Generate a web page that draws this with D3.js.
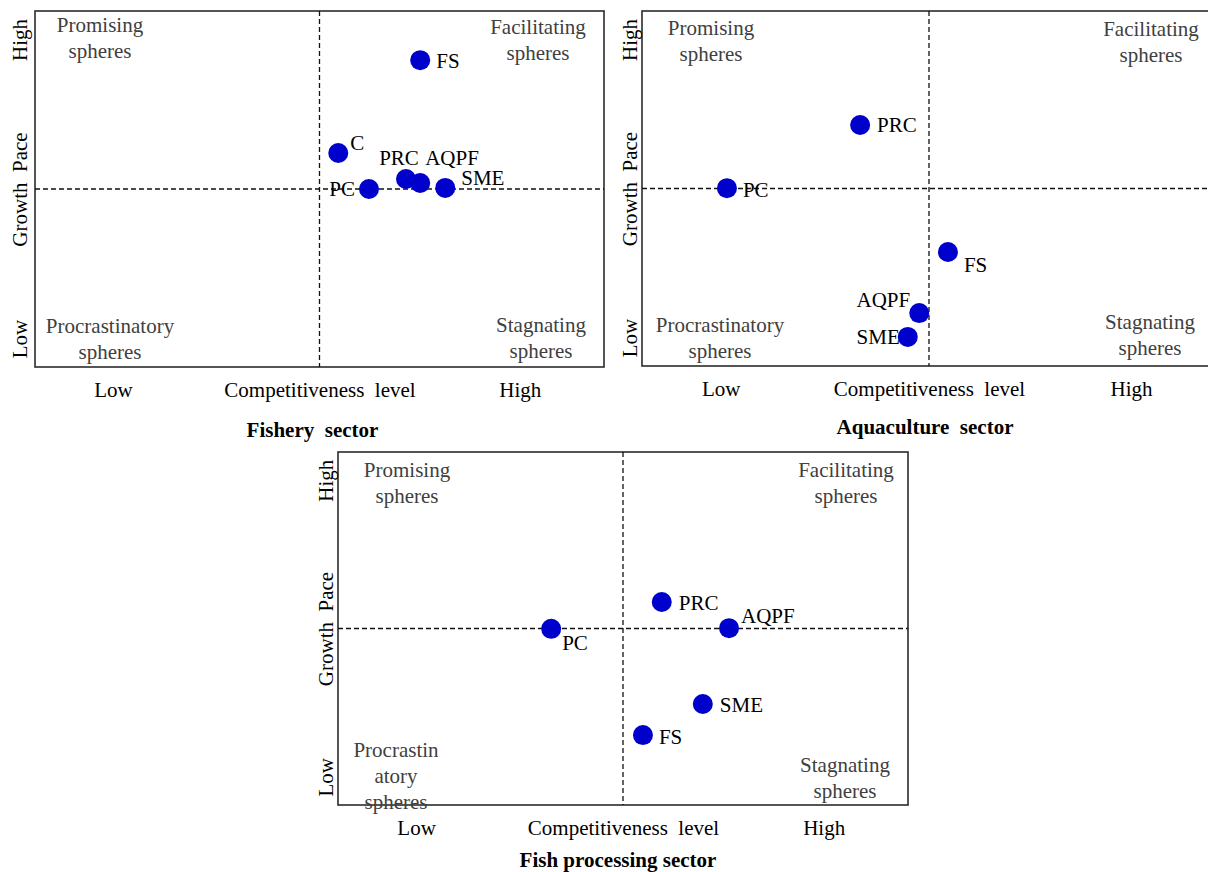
<!DOCTYPE html>
<html>
<head>
<meta charset="utf-8">
<script src="https://cdn.jsdelivr.net/npm/d3@7/dist/d3.min.js"></script>
<style>
  html, body { margin: 0; padding: 0; background: #fff; }
  svg text { font-family: "Liberation Serif", "Times New Roman", serif; white-space: pre; }
</style>
</head>
<body>
<svg id="chart" width="1208" height="872"></svg>
<script>
// ---------------- DATA ----------------
// Fishery sector
const fisheryLabels = ["FS", "C", "PC", "PRC", "AQPF", "SME"];
const fisheryX      = [6.77, 5.33, 5.87, 6.52, 6.77, 7.21];   // competitiveness level (0-10)
const fisheryY      = [8.62, 6.01, 5.00, 5.28, 5.17, 5.03];   // growth pace (0-10)

// Aquaculture sector
const aquaLabels = ["PRC", "PC", "FS", "AQPF", "SME"];
const aquaX      = [3.80, 1.48, 5.33, 4.83, 4.63];
const aquaY      = [6.79, 5.01, 3.21, 1.49, 0.82];

// Fish processing sector
const procLabels = ["PRC", "AQPF", "PC", "SME", "FS"];
const procX      = [5.68, 6.86, 3.74, 6.40, 5.35];
const procY      = [5.75, 5.01, 4.99, 2.86, 1.98];

// Panel titles
const panelTitles = ["Fishery  sector", "Aquaculture  sector", "Fish processing sector"];

// Quadrant labels
const promisingText   = ["Promising", "spheres"];
const facilitatingText = ["Facilitating", "spheres"];
const procrastText    = ["Procrastinatory", "spheres"];
const procrastTextNarrow = ["Procrastin", "atory", "spheres"];
const stagnatingText  = ["Stagnating", "spheres"];

// Axis tick labels
const xTickValues = [1.37, 5, 8.52];
const xTickLabels = ["Low", "Competitiveness  level", "High"];
const yTickValues = [0.8, 5, 9.2];
const yTickLabels = ["Low", "Growth  Pace", "High"];

// Midpoint (quadrant divider)
const midValue = 5;

// ---------------- LAYOUT / STYLE ----------------
// label offsets [dx, dy, anchor] relative to each point
const fisheryLabelPos = [[16,1,"start"],[12,-10,"start"],[-14,0,"end"],[-7,-21,"middle"],[5,-25,"start"],[16,-10,"start"]];
const aquaLabelPos    = [[17,0,"start"],[16,2,"start"],[16,13,"start"],[-9,-13,"end"],[-8,0,"end"]];
const procLabelPos    = [[17,1,"start"],[12,-12,"start"],[11,14,"start"],[17,1,"start"],[16,2,"start"]];

const panels = [
  { frame: {x0: 35,  x1: 604,  y0: 11,  y1: 367}, labels: fisheryLabels, xs: fisheryX, ys: fisheryY, pos: fisheryLabelPos,
    title: panelTitles[0], titleDy: 63, titleDx: -7,
    quads: [
      {text: promisingText,    dx: 65,  dy: 14,  from: "tl"},
      {text: facilitatingText, dx: -66, dy: 16,  from: "tr"},
      {text: procrastText,     dx: 75,  dy: -41, from: "bl"},
      {text: stagnatingText,   dx: -63, dy: -42, from: "br"}
    ], yLabelOff: -15 },
  { frame: {x0: 642, x1: 1216, y0: 11,  y1: 366}, labels: aquaLabels, xs: aquaX, ys: aquaY, pos: aquaLabelPos,
    title: panelTitles[1], titleDy: 61, titleDx: -4,
    quads: [
      {text: promisingText,    dx: 69,  dy: 17,  from: "tl"},
      {text: facilitatingText, dx: -65, dy: 18,  from: "tr"},
      {text: procrastText,     dx: 78,  dy: -41, from: "bl"},
      {text: stagnatingText,   dx: -66, dy: -44, from: "br"}
    ], yLabelOff: -12 },
  { frame: {x0: 338, x1: 908,  y0: 452, y1: 805}, labels: procLabels, xs: procX, ys: procY, pos: procLabelPos,
    title: panelTitles[2], titleDy: 55, titleDx: -5,
    quads: [
      {text: promisingText,      dx: 69,  dy: 18,  from: "tl"},
      {text: facilitatingText,   dx: -62, dy: 18,  from: "tr"},
      {text: procrastTextNarrow, dx: 58,  dy: -55, from: "bl"},
      {text: stagnatingText,     dx: -63, dy: -40, from: "br"}
    ], yLabelOff: -12 }
];

const FONT = 21;
const LINE = 26;
const svg = d3.select("#chart");

panels.forEach(p => {
  const f = p.frame;
  const x = d3.scaleLinear().domain([0, 10]).range([f.x0, f.x1]);
  const y = d3.scaleLinear().domain([0, 10]).range([f.y1, f.y0]);
  const g = svg.append("g");

  // frame
  g.append("rect")
    .attr("x", f.x0).attr("y", f.y0)
    .attr("width", f.x1 - f.x0).attr("height", f.y1 - f.y0)
    .attr("fill", "none").attr("stroke", "#2b2b2b").attr("stroke-width", 1.6);

  // dashed dividers
  g.append("line")
    .attr("x1", x(midValue)).attr("x2", x(midValue))
    .attr("y1", f.y0).attr("y2", f.y1)
    .attr("stroke", "#111").attr("stroke-width", 1.3).attr("stroke-dasharray", "5,3");
  g.append("line")
    .attr("x1", f.x0).attr("x2", f.x1)
    .attr("y1", y(midValue)).attr("y2", y(midValue))
    .attr("stroke", "#111").attr("stroke-width", 1.3).attr("stroke-dasharray", "5,3");

  // quadrant labels
  p.quads.forEach(q => {
    const bx = (q.from === "tl" || q.from === "bl") ? f.x0 : f.x1;
    const by = (q.from === "tl" || q.from === "tr") ? f.y0 : f.y1;
    const n = q.text.length;
    q.text.forEach((t, i) => {
      let cy;
      if (q.from === "tl" || q.from === "tr") cy = by + q.dy + i * LINE;
      else cy = by + q.dy + i * LINE;
      g.append("text")
        .attr("x", bx + q.dx).attr("y", cy).attr("dy", "0.35em")
        .attr("text-anchor", "middle")
        .attr("font-size", FONT).attr("fill", "#404040")
        .text(t);
    });
  });

  // x axis (category-like tick labels)
  const xAxis = d3.axisBottom(x).tickValues(xTickValues)
    .tickFormat((d, i) => xTickLabels[i]).tickSize(0).tickPadding(15);
  const xg = g.append("g").attr("transform", `translate(0,${f.y1})`).call(xAxis);
  xg.select(".domain").remove();
  xg.selectAll("text").attr("font-size", FONT).attr("fill", "#000")
    .style("font-family", '"Liberation Serif", serif');

  // y axis (rotated labels)
  const yAxis = d3.axisLeft(y).tickValues(yTickValues)
    .tickFormat((d, i) => yTickLabels[i]).tickSize(0);
  const yg = g.append("g").attr("transform", `translate(${f.x0},0)`).call(yAxis);
  yg.select(".domain").remove();
  yg.selectAll("text")
    .attr("transform", "rotate(-90)")
    .attr("x", 0).attr("y", p.yLabelOff).attr("dy", "0.35em")
    .attr("text-anchor", "middle")
    .attr("font-size", FONT).attr("fill", "#000")
    .style("font-family", '"Liberation Serif", serif');

  // points
  const data = p.labels.map((l, i) => ({label: l, x: p.xs[i], y: p.ys[i], pos: p.pos[i]}));
  g.selectAll("circle.pt").data(data).enter().append("circle")
    .attr("class", "pt")
    .attr("cx", d => x(d.x)).attr("cy", d => y(d.y)).attr("r", 10)
    .attr("fill", "#0000cc");

  g.selectAll("text.pl").data(data).enter().append("text")
    .attr("class", "pl")
    .attr("x", d => x(d.x) + d.pos[0]).attr("y", d => y(d.y) + d.pos[1])
    .attr("dy", "0.35em").attr("text-anchor", d => d.pos[2])
    .attr("font-size", FONT).attr("fill", "#000")
    .text(d => d.label);

  // title
  g.append("text")
    .attr("x", (f.x0 + f.x1) / 2 + p.titleDx).attr("y", f.y1 + p.titleDy).attr("dy", "0.35em")
    .attr("text-anchor", "middle")
    .attr("font-size", FONT).attr("font-weight", "bold").attr("fill", "#000")
    .text(p.title);
});
</script>
</body>
</html>
